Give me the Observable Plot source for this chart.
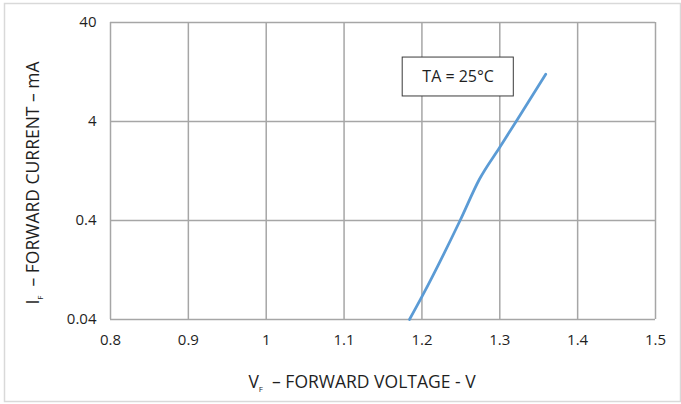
<!DOCTYPE html>
<html>
<head>
<meta charset="utf-8">
<script src="https://cdn.jsdelivr.net/npm/d3@7"></script>
<script src="https://cdn.jsdelivr.net/npm/@observablehq/plot@0.6"></script>
<style>
  html, body { margin: 0; padding: 0; background: #fff; }
  #chart svg { display: block; }
</style>
</head>
<body>
<div id="chart"></div>
<script>
// Forward voltage (V) vs forward current (mA), TA = 25°C
const voltage = [1.184, 1.200, 1.249, 1.274, 1.300, 1.321, 1.359];
const current = [0.04, 0.068, 0.40, 1.05, 2.2, 4.0, 12.0];

const xTicks = [0.8, 0.9, 1.0, 1.1, 1.2, 1.3, 1.4, 1.5];
const xTickLabels = ["0.8", "0.9", "1", "1.1", "1.2", "1.3", "1.4", "1.5"];
const yTicks = [0.04, 0.4, 4, 40];
const yTickLabels = ["0.04", "0.4", "4", "40"];

// annotation box (data units)
const noteText = ["TA = 25°C"];
const noteX1 = [1.1753], noteX2 = [1.318];
const noteY1 = [7.16], noteY2 = [17.7];
const noteXc = [1.2465], noteYc = [11.3];

const xTitle = { main: "V", sub: "F", rest: "\u00a0 \u2013 FORWARD VOLTAGE - V" };
const yTitle = { main: "I", sub: "F", rest: "\u00a0 \u2013 FORWARD CURRENT \u2013 mA" };

const series = voltage.map((v, i) => ({ v, i: current[i] }));
const note = noteText.map((t, k) => ({ t, x1: noteX1[k], x2: noteX2[k], y1: noteY1[k], y2: noteY2[k], xc: noteXc[k], yc: noteYc[k] }));
const yLabelData = yTicks.map((v, k) => ({ v, t: yTickLabels[k] }));
const xLabelData = xTicks.map((v, k) => ({ v, t: xTickLabels[k] }));

const FONT = "'Open Sans', sans-serif";
const TXT = "#1f1f1f";
const gridColor = "#a6a6a6";

const plot = Plot.plot({
  width: 681,
  height: 404,
  marginLeft: 110,
  marginRight: 26,
  marginTop: 22,
  marginBottom: 85,
  style: { fontFamily: FONT, fontSize: "15px", color: TXT, background: "#fff" },
  x: { domain: [0.8, 1.5], axis: null },
  y: { type: "log", domain: [0.04, 40], axis: null },
  marks: [
    Plot.gridX(xTicks, { stroke: gridColor, strokeOpacity: 1, strokeWidth: 1.5 }),
    Plot.gridY(yTicks, { stroke: gridColor, strokeOpacity: 1, strokeWidth: 1.5 }),
    Plot.text(xLabelData, { x: "v", text: "t", frameAnchor: "bottom", dy: 25, fontSize: 15, fill: TXT }),
    Plot.text(yLabelData, { y: "v", text: "t", frameAnchor: "left", textAnchor: "end", dx: -14, fontSize: 15, fill: TXT }),
    Plot.line(series, { x: "v", y: "i", stroke: "#5b9bd5", strokeWidth: 2.75, curve: "monotone-x" }),
    Plot.rect(note, { x1: "x1", x2: "x2", y1: "y1", y2: "y2", fill: "#fff", stroke: "#3a3a3a", strokeWidth: 1 }),
    Plot.text(note, { x: "xc", y: "yc", text: "t", fontSize: 16, fill: TXT })
  ]
});

const svg = d3.select(plot);
// outer chart border
svg.insert("rect", ":first-child")
  .attr("x", 4.5).attr("y", 3.5).attr("width", 676).attr("height", 398)
  .attr("fill", "#fff").attr("stroke", "#d9d9d9").attr("stroke-width", 1.5);

// x title with subscript
const xt = svg.append("text")
  .attr("x", 362).attr("y", 388)
  .attr("text-anchor", "middle")
  .attr("font-family", FONT).attr("font-size", 17.5).attr("fill", TXT);
xt.append("tspan").text(xTitle.main);
xt.append("tspan").attr("font-size", 8).attr("dy", 4).text(xTitle.sub);
xt.append("tspan").attr("dy", -4).text(xTitle.rest);

// y title with subscript
const yt = svg.append("text")
  .attr("transform", "translate(39,183) rotate(-90)")
  .attr("text-anchor", "middle")
  .attr("font-family", FONT).attr("font-size", 17.5).attr("fill", TXT);
yt.append("tspan").text(yTitle.main);
yt.append("tspan").attr("font-size", 8).attr("dy", 4).text(yTitle.sub);
yt.append("tspan").attr("dy", -4).text(yTitle.rest);

document.getElementById("chart").appendChild(plot);
</script>
</body>
</html>
